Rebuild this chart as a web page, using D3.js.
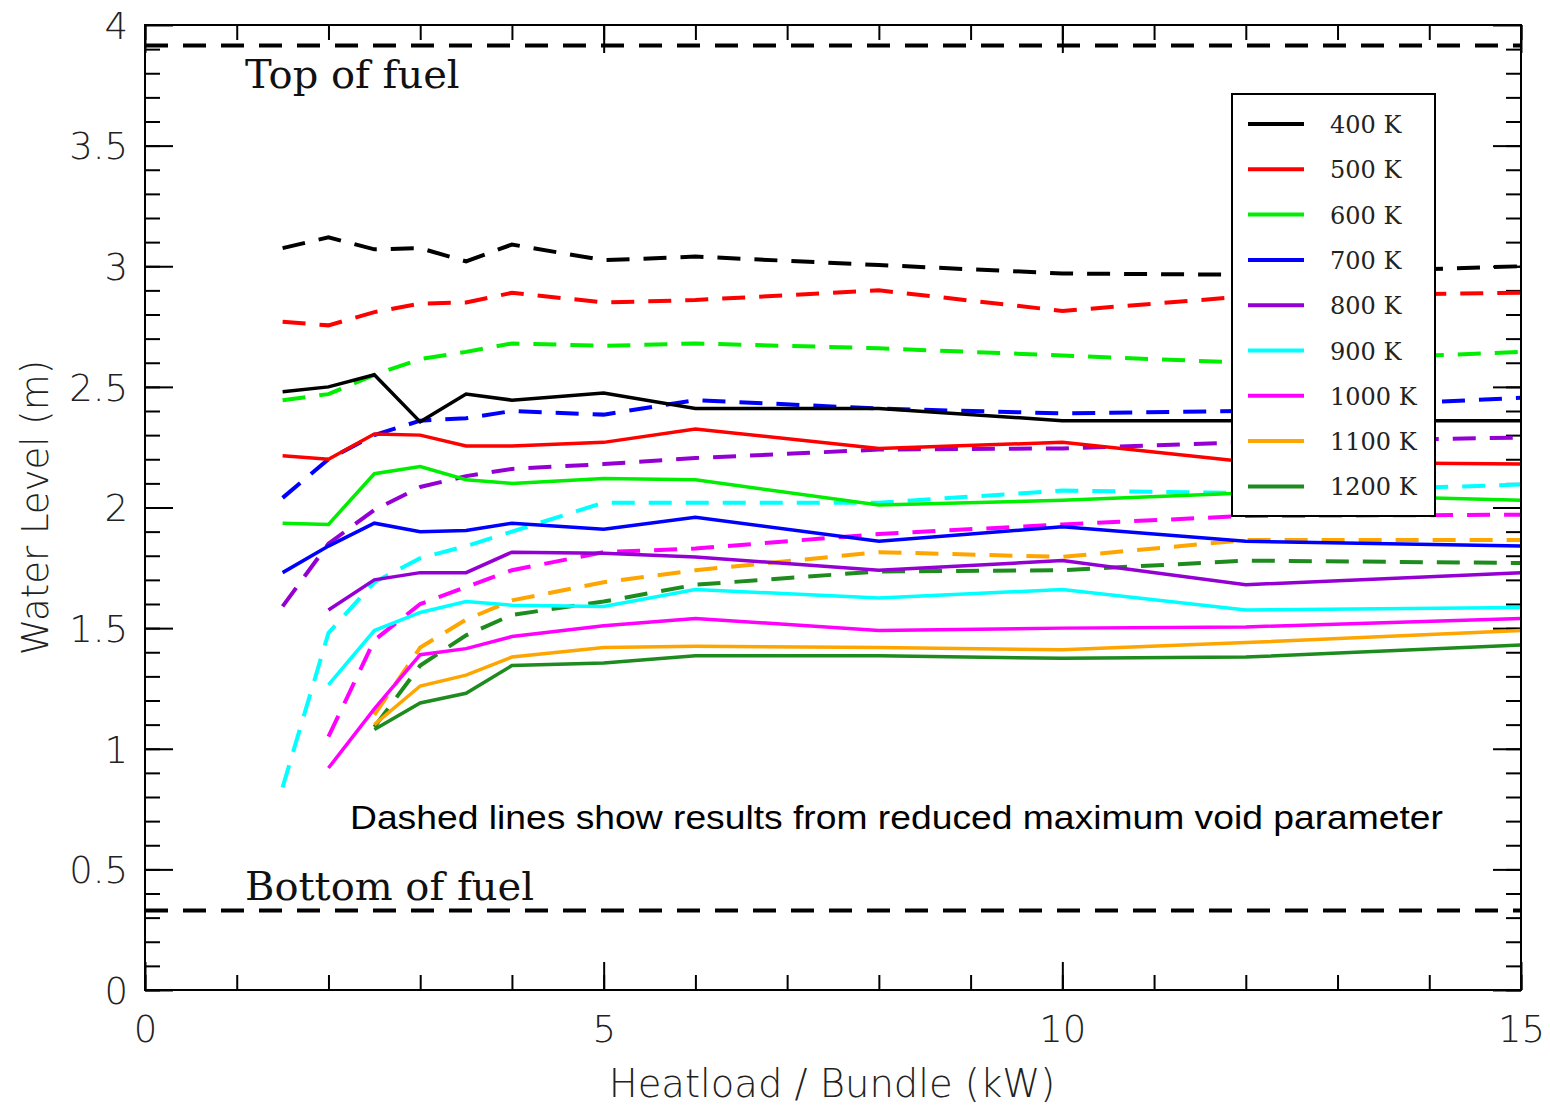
<!DOCTYPE html>
<html>
<head>
<meta charset="utf-8">
<script src="https://cdn.jsdelivr.net/npm/d3@7"></script>
<style>
  body { margin: 0; background: #fff; }
  svg { display: block; }
</style>
</head>
<body>
<svg id="chart"></svg>
<script>
const width = 1550, height = 1110;

// heatload per bundle (kW)
const heatload = [1.5, 2, 2.5, 3, 3.5, 4, 5, 6, 8, 10, 12, 15];

// legend / series labels
const temps = ["400 K", "500 K", "600 K", "700 K", "800 K", "900 K", "1000 K", "1100 K", "1200 K"];
const colors = ["#000000", "#ff0000", "#00ee00", "#0000ff", "#9400d3", "#00ffff", "#ff00ff", "#ffa500", "#1e8b1e"];

// water level (m), solid lines = base case
const base400 = [2.48, 2.50, 2.55, 2.355, 2.47, 2.445, 2.475, 2.41, 2.41, 2.36, 2.36, 2.36];
const base500 = [2.215, 2.20, 2.305, 2.30, 2.255, 2.255, 2.27, 2.325, 2.245, 2.27, 2.19, 2.18];
const base600 = [1.935, 1.93, 2.14, 2.17, 2.115, 2.10, 2.12, 2.115, 2.01, 2.03, 2.06, 2.03];
const base700 = [1.73, 1.84, 1.935, 1.90, 1.905, 1.935, 1.91, 1.96, 1.86, 1.92, 1.86, 1.84];
const base800 = [null, 1.575, 1.70, 1.73, 1.73, 1.815, 1.81, 1.795, 1.74, 1.78, 1.68, 1.73];
const base900 = [null, 1.265, 1.49, 1.565, 1.61, 1.595, 1.59, 1.66, 1.625, 1.66, 1.575, 1.585];
const base1000 = [null, 0.92, 1.165, 1.39, 1.415, 1.465, 1.51, 1.54, 1.49, 1.50, 1.505, 1.54];
const base1100 = [null, null, 1.10, 1.26, 1.305, 1.38, 1.42, 1.425, 1.42, 1.41, 1.44, 1.49];
const base1200 = [null, null, 1.08, 1.19, 1.23, 1.345, 1.355, 1.385, 1.385, 1.375, 1.38, 1.43];

// dashed lines = reduced maximum void parameter
const red400 = [3.075, 3.12, 3.07, 3.075, 3.02, 3.09, 3.025, 3.04, 3.005, 2.97, 2.965, 3.0];
const red500 = [2.77, 2.755, 2.81, 2.845, 2.85, 2.89, 2.85, 2.86, 2.9, 2.815, 2.875, 2.89];
const red600 = [2.445, 2.47, 2.55, 2.615, 2.645, 2.68, 2.67, 2.68, 2.66, 2.63, 2.60, 2.645];
const red700 = [2.04, 2.20, 2.30, 2.36, 2.37, 2.40, 2.385, 2.445, 2.41, 2.39, 2.40, 2.455];
const red800 = [1.59, 1.85, 1.99, 2.085, 2.13, 2.16, 2.18, 2.205, 2.24, 2.245, 2.27, 2.29];
const red900 = [0.84, 1.48, 1.69, 1.79, 1.84, 1.90, 2.02, 2.02, 2.02, 2.07, 2.06, 2.095];
const red1000 = [null, 1.05, 1.45, 1.60, 1.67, 1.74, 1.815, 1.83, 1.89, 1.93, 1.965, 1.97];
const red1100 = [null, null, 1.14, 1.42, 1.535, 1.615, 1.69, 1.74, 1.815, 1.795, 1.865, 1.865];
const red1200 = [null, null, 1.09, 1.345, 1.47, 1.555, 1.61, 1.68, 1.735, 1.74, 1.78, 1.77];

// fuel limits (m)
const topOfFuel = 3.915;
const bottomOfFuel = 0.33;

const baseSeries = [base400, base500, base600, base700, base800, base900, base1000, base1100, base1200];
const reducedSeries = [red400, red500, red600, red700, red800, red900, red1000, red1100, red1200];

const svg = d3.select("#chart").attr("width", width).attr("height", height);

const pl = 145, pr = 1521, pt = 25, pb = 990;
const x = d3.scaleLinear().domain([0, 15]).range([pl, pr]);
const y = d3.scaleLinear().domain([0, 4]).range([pb, pt]);

const tickFont = "'DejaVu Sans', sans-serif";

// minor ticks (all four sides, inward)
const xMinor = d3.range(0, 16, 1);
const yMinor = d3.range(0, 40, 1).map(d => d / 10);
const xMajor = [0, 5, 10, 15];
const yMajor = [0, 0.5, 1, 1.5, 2, 2.5, 3, 3.5, 4];

function tickAxis(axis, ticks, len) {
  return axis.tickValues(ticks).tickSizeInner(-len).tickSizeOuter(0).tickFormat("");
}

svg.append("g").attr("transform", `translate(0,${pb})`).call(tickAxis(d3.axisBottom(x), xMinor, 15));
svg.append("g").attr("transform", `translate(0,${pt})`).call(tickAxis(d3.axisTop(x), xMinor, 15));
svg.append("g").attr("transform", `translate(${pl},0)`).call(tickAxis(d3.axisLeft(y), yMinor, 15));
svg.append("g").attr("transform", `translate(${pr},0)`).call(tickAxis(d3.axisRight(y), yMinor, 15));
svg.append("g").attr("transform", `translate(0,${pt})`).call(tickAxis(d3.axisTop(x), xMajor, 28));
svg.append("g").attr("transform", `translate(${pr},0)`).call(tickAxis(d3.axisRight(y), yMajor, 28));

// labelled major axes
const xAxis = svg.append("g").attr("transform", `translate(0,${pb})`)
  .call(d3.axisBottom(x).tickValues(xMajor).tickSizeInner(-28).tickSizeOuter(0).tickPadding(26).tickFormat(d3.format("d")));
const yAxis = svg.append("g").attr("transform", `translate(${pl},0)`)
  .call(d3.axisLeft(y).tickValues(yMajor).tickSizeInner(-28).tickSizeOuter(0).tickPadding(17).tickFormat(d3.format("")));

svg.selectAll(".domain").remove();
svg.selectAll(".tick line").attr("stroke", "#000").attr("stroke-width", 2);
[xAxis, yAxis].forEach(g => g.selectAll("text")
  .style("font-family", tickFont).style("font-size", "37px").style("font-weight", 200).attr("fill", "#222"));
yAxis.selectAll("text").attr("dy", "0.36em");

// fuel limits
[topOfFuel, bottomOfFuel].forEach(v => {
  svg.append("line")
    .attr("x1", pl).attr("x2", pr)
    .attr("y1", y(v)).attr("y2", y(v))
    .attr("stroke", "#000").attr("stroke-width", 4)
    .attr("stroke-dasharray", "23,15");
});

svg.append("text").attr("x", 245).attr("y", 88)
  .style("font-family", "'DejaVu Serif', serif").style("font-size", "40px").attr("fill", "#111")
  .text("Top of fuel");
svg.append("text").attr("x", 245).attr("y", 900)
  .style("font-family", "'DejaVu Serif', serif").style("font-size", "40px").attr("fill", "#111")
  .text("Bottom of fuel");

// data lines
const line = d3.line()
  .defined(d => d[1] !== null)
  .x(d => x(d[0]))
  .y(d => y(d[1]));

const plot = svg.append("g");
reducedSeries.forEach((vals, i) => {
  plot.append("path")
    .datum(heatload.map((h, j) => [h, vals[j]]))
    .attr("d", line)
    .attr("fill", "none")
    .attr("stroke", colors[i])
    .attr("stroke-width", 4)
    .attr("stroke-dasharray", "23,14");
});
baseSeries.forEach((vals, i) => {
  plot.append("path")
    .datum(heatload.map((h, j) => [h, vals[j]]))
    .attr("d", line)
    .attr("fill", "none")
    .attr("stroke", colors[i])
    .attr("stroke-width", 3.5);
});

// frame
svg.append("rect")
  .attr("x", pl).attr("y", pt)
  .attr("width", pr - pl).attr("height", pb - pt)
  .attr("fill", "none").attr("stroke", "#000").attr("stroke-width", 2);

// legend
const legend = svg.append("g").attr("transform", "translate(1232,94)");
legend.append("rect")
  .attr("width", 203).attr("height", 422)
  .attr("fill", "#fff").attr("stroke", "#000").attr("stroke-width", 2);
temps.forEach((t, i) => {
  const ly = 30 + i * 45.3;
  legend.append("line")
    .attr("x1", 16).attr("x2", 72).attr("y1", ly).attr("y2", ly)
    .attr("stroke", colors[i]).attr("stroke-width", 4);
  legend.append("text")
    .attr("x", 98).attr("y", ly + 9)
    .style("font-family", "'DejaVu Serif', serif").style("font-size", "24px").attr("fill", "#222")
    .text(t);
});

// note
svg.append("text").attr("x", 350).attr("y", 829)
  .attr("textLength", 1093).attr("lengthAdjust", "spacingAndGlyphs")
  .style("font-family", "'Liberation Sans', Arial, sans-serif").style("font-size", "34px").attr("fill", "#000")
  .text("Dashed lines show results from reduced maximum void parameter");

// axis titles
svg.append("text")
  .attr("x", 832).attr("y", 1097)
  .attr("text-anchor", "middle")
  .style("font-family", tickFont).style("font-size", "38.5px").style("font-weight", 200).attr("fill", "#222")
  .text("Heatload / Bundle (kW)");
svg.append("text")
  .attr("transform", `translate(48,${(pt + pb) / 2}) rotate(-90)`)
  .attr("text-anchor", "middle")
  .style("font-family", tickFont).style("font-size", "37px").style("font-weight", 200).attr("fill", "#222")
  .text("Water Level (m)");
</script>
</body>
</html>
